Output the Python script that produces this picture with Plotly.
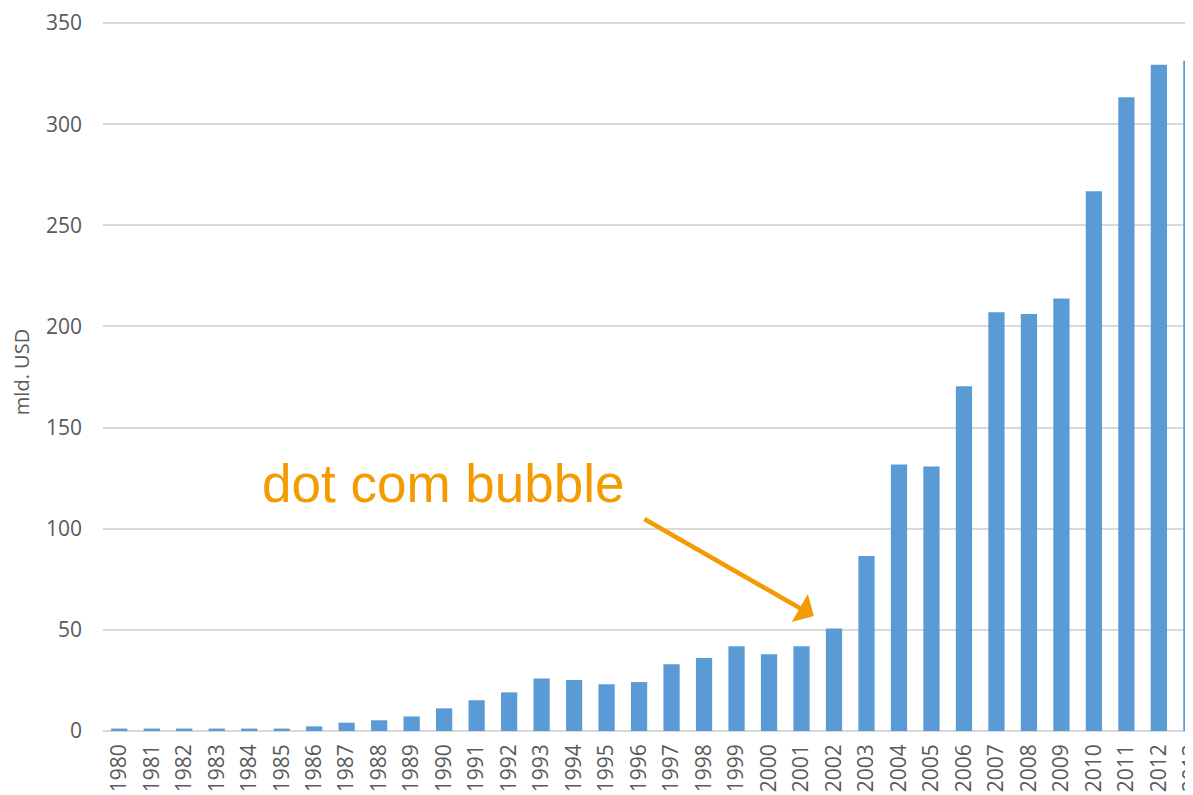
import plotly.graph_objects as go

years = [str(y) for y in range(1980, 2014)]
values = [1.2, 1.2, 1.2, 1.2, 1.2, 1.2, 2.3, 4.1, 5.3, 7.2,
          11.2, 15.2, 19.1, 26.0, 25.2, 23.1, 24.2, 33.0, 36.1, 41.9,
          38.0, 41.9, 50.7, 86.5, 131.8, 130.8, 170.5, 207.0, 206.2, 213.9,
          266.9, 313.4, 329.4, 331.4]
y_ticks = [0, 50, 100, 150, 200, 250, 300, 350]
annotation_text = "dot com bubble"
y_title = "mld. USD"

fig = go.Figure()
fig.add_trace(go.Bar(x=years, y=values, marker=dict(color="#5B9BD5", line=dict(width=0)),
                     showlegend=False))

gray = "#595959"
xfont = dict(family="Open Sans, sans-serif", size=21, color=gray)
yfont = dict(family="Open Sans, sans-serif", size=21, color=gray)

fig.update_layout(
    width=1185, height=787,
    margin=dict(l=95, r=0, t=4.6, b=64),
    plot_bgcolor="white", paper_bgcolor="white",
    bargap=0.5,
    xaxis=dict(range=[-0.5, 33.05], tickangle=-90, tickfont=xfont, showgrid=False,
               showline=False, zeroline=False, ticks="", automargin=False,
               ticklabelstandoff=8),
    yaxis=dict(range=[0, 355], tickvals=y_ticks, tickfont=yfont, showgrid=True,
               gridcolor="#d9d9d9", gridwidth=2, zeroline=True, zerolinecolor="#d9d9d9",
               zerolinewidth=2, showline=False, ticks="", automargin=False,
               ticklabelstandoff=20,
               title=dict(text=y_title, font=dict(family="Open Sans, sans-serif", size=20, color=gray),
                          standoff=10)),
)

orange = "#F39B00"
fig.add_annotation(x=21.38, y=56.8, xref="x", yref="y", text="", showarrow=True,
                   ax=-171, ay=-98, arrowhead=1, arrowsize=1.2, arrowwidth=4.5,
                   arrowcolor=orange)
fig.add_annotation(x=4.33, y=122.4, xref="x", yref="y", text=annotation_text,
                   showarrow=False, xanchor="left", yanchor="middle",
                   font=dict(family="Liberation Sans, Arial, sans-serif", size=53, color=orange))

fig.write_html("out.html")
